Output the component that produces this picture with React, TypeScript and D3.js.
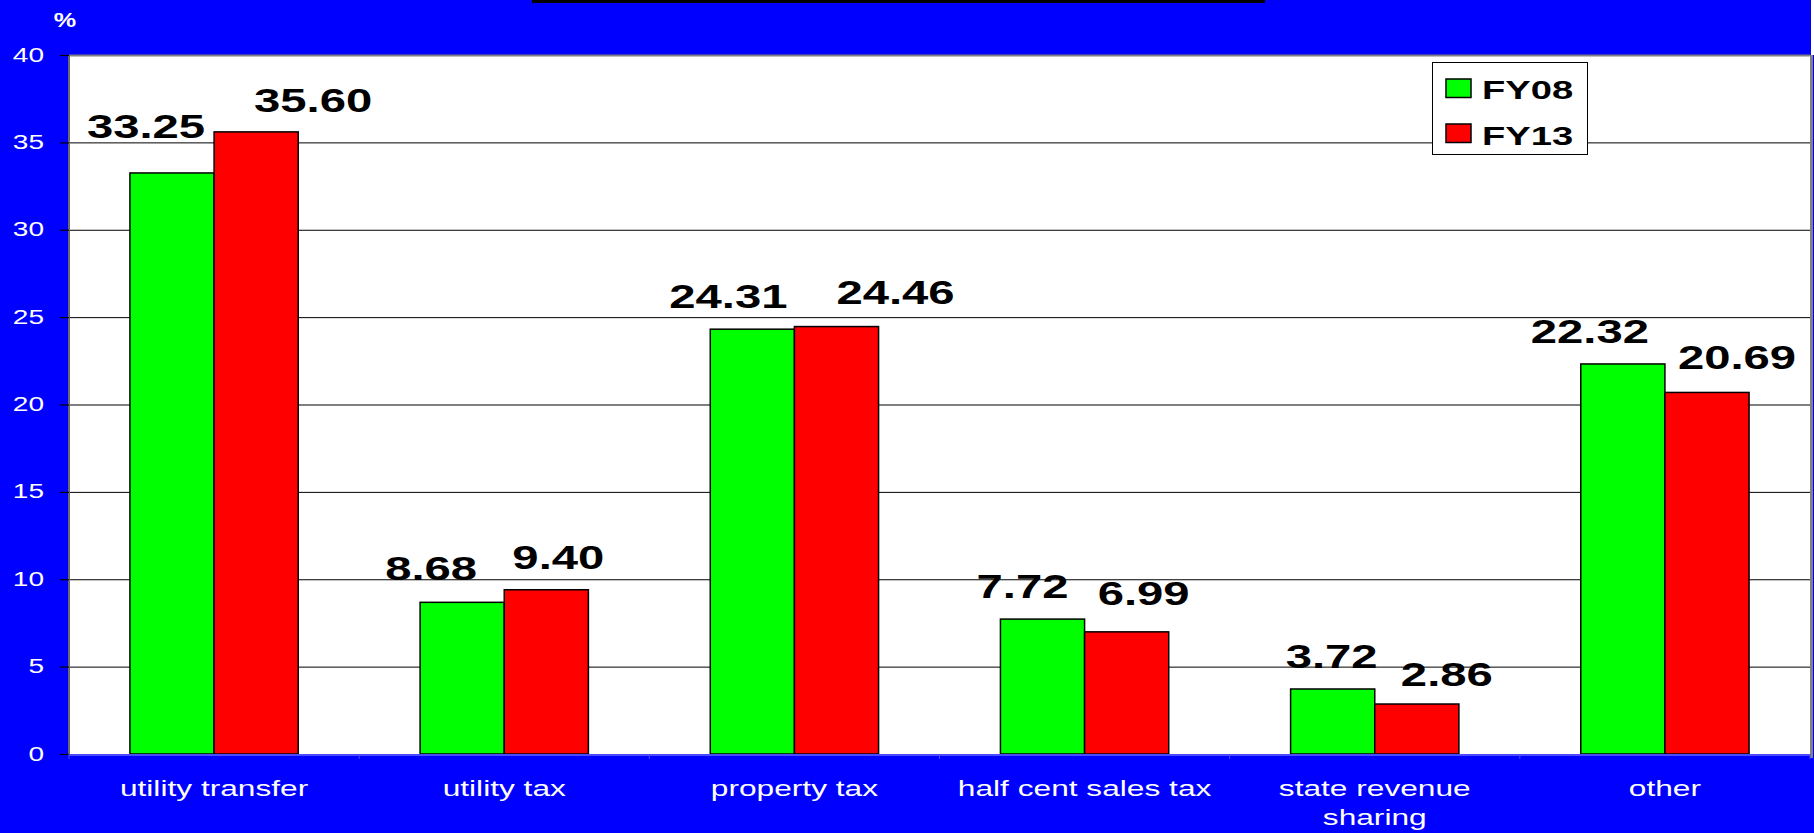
import React from "react";
import * as d3 from "d3";

const categories: string[][] = [
  ["utility transfer"],
  ["utility tax"],
  ["property tax"],
  ["half cent sales tax"],
  ["state revenue", "sharing"],
  ["other"],
];
const seriesNames = ["FY08", "FY13"];
const fy08 = [33.25, 8.68, 24.31, 7.72, 3.72, 22.32];
const fy13 = [35.6, 9.4, 24.46, 6.99, 2.86, 20.69];
const yTicks = [0, 5, 10, 15, 20, 25, 30, 35, 40];

// label styling nudges (pixels), as seen in the reference
const labelDx = [
  [-26, -31, -24, -20, -1, -33],
  [57, 12, 59, 17, 30, 30],
];
const labelGap = [
  [35, 22, 21, 21, 21, 21],
  [20, 21, 23, 27, 18, 23],
];

const W = 1814;
const H = 833;
const SX = 1.44;
const FONT = "'Liberation Sans', Arial, Helvetica, sans-serif";
const colors = ["#00ff00", "#ff0000"];

export default function App() {
  const left = 69;
  const right = 1810;
  const top = 55;
  const bottom = 754;
  const series = [fy08, fy13];

  const x0 = d3
    .scaleBand<number>()
    .domain(d3.range(categories.length))
    .range([left, right])
    .padding(0);
  const bw = x0.bandwidth();
  const groupW = bw * 0.58;
  const x1 = d3
    .scaleBand<number>()
    .domain(d3.range(seriesNames.length))
    .range([(bw - groupW) / 2, (bw + groupW) / 2])
    .padding(0);
  const y = d3.scaleLinear().domain([0, 40]).range([bottom, top]);

  return (
    <div style={{ position: "absolute", left: 0, top: 0 }}>
      <svg width={W} height={H} style={{ display: "block" }} fontFamily={FONT}>
        <rect x={0} y={0} width={W} height={H} fill="#0000ff" />
        <rect x={1811} y={0} width={3} height={top} fill="#ffffff" />
        <rect x={532} y={0} width={733} height={3} fill="#000000" />
        {/* plot area */}
        <rect x={left} y={top} width={right - left} height={bottom - top} fill="#ffffff" />
        {/* gridlines */}
        {yTicks.slice(1).map((t) => (
          <line
            key={"g" + t}
            x1={left}
            x2={right}
            y1={y(t) + 0.5}
            y2={y(t) + 0.5}
            stroke={t === 40 ? "#808080" : "#000000"}
            strokeWidth={t === 40 ? 2 : 1}
          />
        ))}
        {/* right border */}
        <line x1={right + 1.5} x2={right + 1.5} y1={top} y2={bottom + 4} stroke="#808080" strokeWidth={3} />
        {/* bars */}
        {series.map((vals, si) =>
          vals.map((v, ci) => (
            <rect
              key={"b" + si + "-" + ci}
              x={(x0(ci) as number) + (x1(si) as number)}
              y={y(v)}
              width={x1.bandwidth()}
              height={bottom - y(v)}
              fill={colors[si]}
              stroke="#000000"
              strokeWidth={1.5}
            />
          ))
        )}
        {/* y axis */}
        <line x1={left} x2={left} y1={top} y2={bottom} stroke="#6a6a6a" strokeWidth={2} />
        {yTicks.map((t) => (
          <g key={"t" + t}>
            <line x1={left - 9} x2={left} y1={y(t) + 0.5} y2={y(t) + 0.5} stroke="#000000" strokeWidth={1.2} />
            <text
              transform={`translate(${44},${y(t) + 6.5}) scale(${SX},1)`}
              textAnchor="end"
              fontSize={19.5}
              fill="#ffffff"
            >
              {t}
            </text>
          </g>
        ))}
        <text
          transform={`translate(${65},${27}) scale(1.2,1)`}
          textAnchor="middle"
          fontSize={21}
          fontWeight="bold"
          fill="#ffffff"
        >
          %
        </text>
        {/* x axis */}
        <line x1={left} x2={right} y1={bottom + 1} y2={bottom + 1} stroke="#4a4aff" strokeWidth={2} />
        {d3.range(categories.length + 1).map((i) => (
          <line
            key={"xt" + i}
            x1={left + i * bw}
            x2={left + i * bw}
            y1={bottom}
            y2={bottom + 5}
            stroke="#4a4aff"
            strokeWidth={1}
          />
        ))}
        {categories.map((lines, ci) =>
          lines.map((ln, li) => (
            <text
              key={"xl" + ci + "-" + li}
              transform={`translate(${(x0(ci) as number) + bw / 2},${796 + li * 29}) scale(${SX},1)`}
              textAnchor="middle"
              fontSize={22}
              fill="#ffffff"
            >
              {ln}
            </text>
          ))
        )}
        {/* data labels */}
        {series.map((vals, si) =>
          vals.map((v, ci) => (
            <text
              key={"dl" + si + "-" + ci}
              transform={`translate(${
                (x0(ci) as number) + (x1(si) as number) + x1.bandwidth() / 2 + labelDx[si][ci]
              },${y(v) - labelGap[si][ci]}) scale(1.41,1)`}
              textAnchor="middle"
              fontSize={33.5}
              fontWeight="bold"
              fill="#000000"
            >
              {v.toFixed(2)}
            </text>
          ))
        )}
        {/* legend */}
        <rect x={1432.5} y={62.5} width={155} height={92} fill="#ffffff" stroke="#000000" strokeWidth={1} />
        {seriesNames.map((s, si) => (
          <g key={"lg" + s}>
            <rect
              x={1446}
              y={79 + si * 45}
              width={25}
              height={18.5}
              fill={colors[si]}
              stroke="#000000"
              strokeWidth={1.5}
            />
            <text
              transform={`translate(${1482},${98.5 + si * 46.5}) scale(${SX},1)`}
              fontSize={26.5}
              fontWeight="bold"
              fill="#000000"
            >
              {s}
            </text>
          </g>
        ))}
      </svg>
    </div>
  );
}
